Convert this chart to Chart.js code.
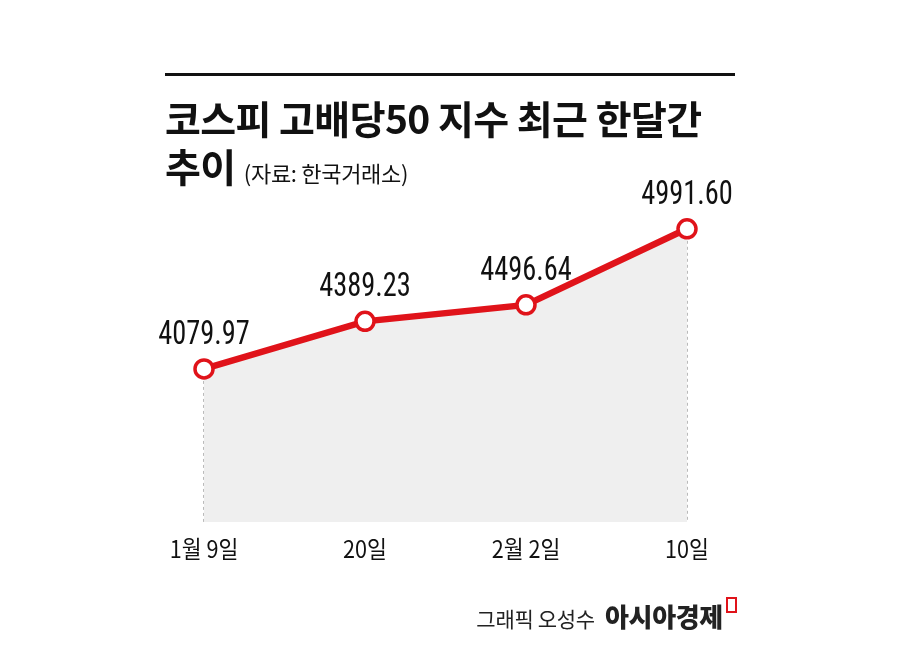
<!DOCTYPE html>
<html><head><meta charset="utf-8">
<script src="https://cdn.jsdelivr.net/npm/chart.js@4"></script>
<style>
body{margin:0;background:#fff;font-family:"Noto Sans CJK KR",sans-serif;}
#wrap{position:relative;width:900px;height:659px;}
canvas{position:absolute;left:0;top:0;}
.rule{position:absolute;left:165px;top:73px;width:570px;height:3px;background:#111;}
.t{position:absolute;left:165px;font-weight:700;font-size:39px;color:#111;letter-spacing:-0.6px;line-height:1;}
.src{font-weight:400;font-size:22px;letter-spacing:-0.3px;}
.foot{position:absolute;right:163px;top:597px;font-size:21px;color:#222;letter-spacing:-0.3px;}
.foot b{font-size:26px;font-weight:900;margin-left:10px;}
.foot i{display:inline-block;width:7px;height:12px;border:2px solid #e0131a;margin-left:3px;vertical-align:top;}
</style></head><body>
<div id="wrap">
<canvas id="c" width="900" height="659"></canvas>
<div class="rule"></div>
<div class="t" style="top:98px">코스피 고배당50 지수 최근 한달간</div>
<div class="t" style="top:146px">추이 <span class="src">(자료: 한국거래소)</span></div>
<div class="foot">그래픽 오성수<b>아시아경제</b><i></i></div>
</div>
<script>
const categories=["1월 9일","20일","2월 2일","10일"];
const values=[4079.97,4389.23,4496.64,4991.60];
const valueLabels=["4079.97","4389.23","4496.64","4991.60"];
const deco={id:'deco',
 beforeDatasetsDraw(ch){const c=ch.ctx,m=ch.getDatasetMeta(0),b=ch.chartArea.bottom;
  c.save();c.setLineDash([3,3]);c.strokeStyle='#777';c.lineWidth=1;
  m.data.forEach(p=>{c.beginPath();c.moveTo(p.x,p.y);c.lineTo(p.x,b);c.stroke();});c.restore();},
 afterDatasetsDraw(ch){const c=ch.ctx,m=ch.getDatasetMeta(0),b=ch.chartArea.bottom;
  c.save();c.fillStyle='#111';c.textAlign='center';
  m.data.forEach((p,i)=>{c.font='400 33px "Roboto Condensed","Noto Sans"';
   c.textBaseline='bottom';c.save();c.translate(p.x,p.y-17);c.scale(0.86,1);c.fillText(valueLabels[i],0,0);c.restore();
   c.font='400 24px "Noto Sans CJK KR"';c.textBaseline='middle';c.save();c.translate(p.x,b+27);c.scale(0.9,1);c.fillText(categories[i],0,0);c.restore();});
  c.restore();}};
new Chart(document.getElementById('c'),{type:'line',
 data:{labels:categories,datasets:[{data:values,borderColor:'#e0131a',borderWidth:6.5,
  backgroundColor:'#efefef',fill:'start',pointRadius:9,pointBorderWidth:3.5,
  pointBackgroundColor:'#fff',pointBorderColor:'#e0131a',tension:0}]},
 options:{responsive:false,animation:false,devicePixelRatio:1,
  layout:{padding:{left:204,right:213,top:166,bottom:137}},
  plugins:{legend:{display:false},tooltip:{enabled:false}},
  scales:{x:{display:false,offset:false},y:{display:false,min:3084,max:5400}}},
 plugins:[deco]});
</script></body></html>
